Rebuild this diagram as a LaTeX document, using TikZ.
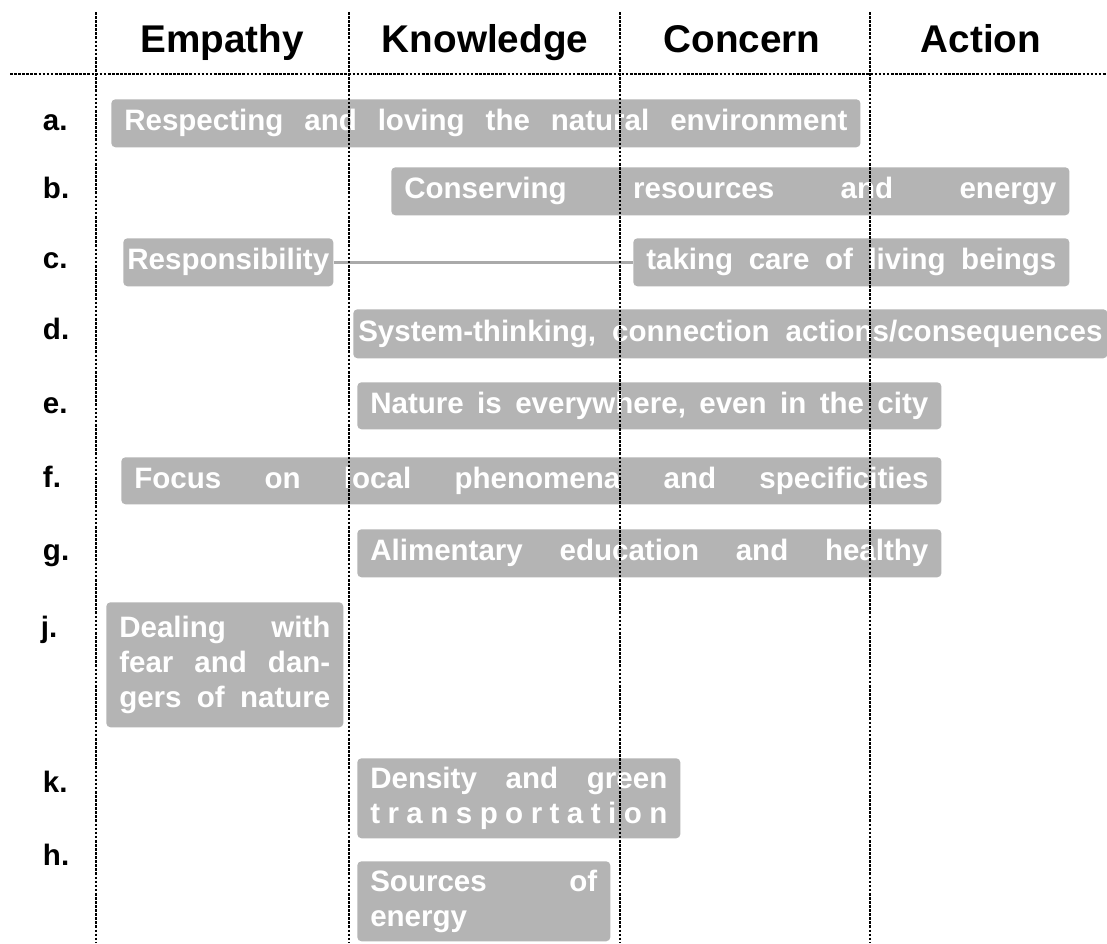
\documentclass[tikz,border=0pt]{standalone}
\usepackage{fontspec}
\setmainfont{Liberation Sans}
\definecolor{cellgray}{RGB}{180,180,180}
\definecolor{linkgray}{RGB}{170,170,170}
\newcommand{\spreadline}[1]{{\frenchspacing\spaceskip=\fontdimen2\font plus 1fil\relax
  \makebox[\hsize][s]{#1}}}

\begin{document}
\begin{tikzpicture}[x=0.025cm,y=-0.025cm,
  cell/.style={anchor=north west, fill=cellgray, rounded corners=3pt, text=white,
    inner xsep=0.325cm, inner ysep=0pt, font=\bfseries\fontsize{21}{24.9}\selectfont},
  rowlabel/.style={anchor=base west, font=\bfseries\fontsize{21}{25}\selectfont},
  header/.style={anchor=base, font=\bfseries\fontsize{27.5}{33}\selectfont},
  gridline/.style={line width=2pt, dash pattern=on 1.9pt off 1pt}]
\fill [white] (0,0) rectangle (1107,943);
\useasboundingbox (0,0) rectangle (1107,943);
\node [header] (empathy) at (222,52) {Empathy};
\node [header] (knowledge) at (485,52) {Knowledge};
\node [header] (concern) at (742,52) {Concern};
\node [header] (action) at (981,52) {Action};
\node [rowlabel] (la) at (38,130) {a.};
\node [rowlabel] (lb) at (38,198) {b.};
\node [rowlabel] (lc) at (38,268) {c.};
\node [rowlabel] (ld) at (38,339) {d.};
\node [rowlabel] (le) at (38,413) {e.};
\node [rowlabel] (lf) at (38,487) {f.};
\node [rowlabel] (lg) at (38,560) {g.};
\node [rowlabel] (lj) at (36,637) {j.};
\node [rowlabel] (lk) at (38,792) {k.};
\node [rowlabel] (lh) at (38,865) {h.};
\node [cell, minimum width=18.725cm, minimum height=1.2cm, text width=18.075cm] (respect) at (111,99)
  {\spreadline{Respecting and loving the natural environment}};
\node [cell, minimum width=16.95cm, minimum height=1.2cm, text width=16.3cm] (conserve) at (391,167)
  {\spreadline{Conserving resources and energy}};
\node [cell, minimum width=5.25cm, minimum height=1.2cm, inner xsep=0.05cm] (respons) at (123,238)
  {Responsibility};
\node [cell, minimum width=10.9cm, minimum height=1.2cm, text width=10.25cm] (care) at (633,238)
  {\spreadline{taking care of living beings}};
\node [cell, minimum width=18.85cm, minimum height=1.225cm, inner xsep=0.125cm, text width=18.6cm] (system) at (353,309)
  {\spreadline{System-thinking, connection actions/consequences}};
\node [cell, minimum width=14.6cm, minimum height=1.175cm, text width=13.95cm] (nature) at (357,382)
  {\spreadline{Nature is everywhere, even in the city}};
\node [cell, minimum width=20.5cm, minimum height=1.175cm, text width=19.85cm] (local) at (121,457)
  {\spreadline{Focus on local phenomena and specificities}};
\node [cell, minimum width=14.6cm, minimum height=1.2cm, text width=13.95cm] (aliment) at (357,529)
  {\spreadline{Alimentary education and healthy}};
\node [cell, minimum width=5.925cm, minimum height=3.125cm, text width=5.275cm] (fear) at (106,602)
  {\spreadline{Dealing with}\\\spreadline{fear and dan-}\\\spreadline{gers of nature}};
\node [cell, minimum width=8.075cm, minimum height=2cm, text width=7.425cm] (density) at (357,758)
  {\spreadline{Density and green}\\\hbox to\hsize{t\hfil r\hfil a\hfil n\hfil s\hfil p\hfil o\hfil r\hfil t\hfil a\hfil t\hfil i\hfil o\hfil n}};
\node [cell, minimum width=6.325cm, minimum height=2cm, text width=5.675cm] (sources) at (357,861)
  {\spreadline{Sources of}\\energy};
\draw [linkgray, line width=1.8pt] (respons.east) -- (care.west);
\draw [gridline] (10,74) -- (1107,74);
\draw [gridline] (96,12) -- (96,943);
\draw [gridline] (349,12) -- (349,943);
\draw [gridline] (620,12) -- (620,943);
\draw [gridline] (870,12) -- (870,943);
\end{tikzpicture}
\end{document}
